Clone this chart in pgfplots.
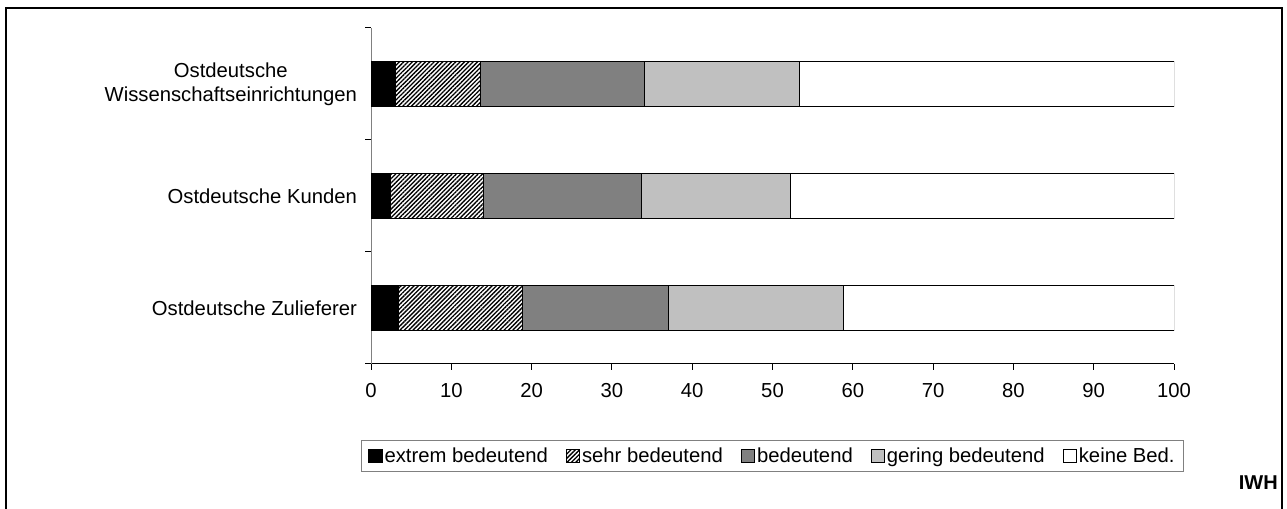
\documentclass[border=0pt]{standalone}
\usepackage{fontspec}
\setmainfont{Liberation Sans}
\usepackage{pgfplots}
\pgfplotsset{compat=1.18}
\usetikzlibrary{patterns.meta}
\definecolor{dgray}{RGB}{128,128,128}
\definecolor{lgray}{RGB}{192,192,192}
\begin{document}
\begin{tikzpicture}
\useasboundingbox (0,0) rectangle (965.25pt,381.75pt);
% outer frame, open at the bottom
\draw[line width=1.5pt] (4.5pt,-3pt) -- (4.5pt,375.75pt) -- (961.5pt,375.75pt) -- (961.5pt,-3pt);
\node[anchor=base east, font=\fontsize{15}{18}\selectfont\bfseries, inner sep=0pt] at (958.5pt,14.25pt) {IWH};
\begin{axis}[
	at={(278.25pt,108.75pt)}, anchor=south west,
	scale only axis, width=602.25pt, height=252pt,
	xbar stacked, bar width=33.75pt,
	xmin=0, xmax=100, ymin=-0.5, ymax=2.5,
	axis lines=left,
	axis line style={-, line width=0.75pt},
	x axis line style={black},
	y axis line style={dgray},
	tick align=outside,
	major tick length=4.5pt,
	tick style={black, line width=0.75pt},
	xtick={0,10,...,100},
	ytick={-0.5,0.5,1.5,2.5},
	yticklabels={},
	extra y ticks={0,1,2},
	extra y tick labels={Ostdeutsche Zulieferer, Ostdeutsche Kunden, {Ostdeutsche\\Wissenschaftseinrichtungen}},
	extra y tick style={major tick length=0pt, tick style={draw=none}},
	yticklabel style={align=center, xshift=-7pt},
	xticklabel style={yshift=-6.5pt},
	/pgf/number format/assume math mode=true,
	font=\fontsize{15.2}{18}\selectfont,
	ticklabel style={font=\fontsize{15.2}{18}\selectfont},
	legend style={at={(0.5,-0.226)}, anchor=north, legend columns=-1,
		draw=dgray, line width=0.75pt, font=\fontsize{15.2}{18}\selectfont,
		inner xsep=5pt, inner ysep=4pt,
		nodes={inner sep=1.5pt},
		/tikz/every even column/.append style={column sep=12pt}},
	legend image code/.code={\draw[#1, line width=0.6pt] (0pt,-5pt) rectangle (10pt,5pt);},
	every axis plot/.append style={draw=black, line width=0.75pt},
]
\addplot[fill=black] coordinates {(3.4,0) (2.4,1) (3.0,2)};
\addlegendentry{extrem bedeutend}
\addplot[pattern={Lines[angle=45,distance=2.3pt,line width=1pt]}] coordinates {(15.5,0) (11.6,1) (10.6,2)};
\addlegendentry{sehr bedeutend}
\addplot[fill=dgray] coordinates {(18.2,0) (19.7,1) (20.4,2)};
\addlegendentry{bedeutend}
\addplot[fill=lgray] coordinates {(21.7,0) (18.6,1) (19.3,2)};
\addlegendentry{gering bedeutend}
\addplot[fill=white] coordinates {(41.2,0) (47.7,1) (46.7,2)};
\addlegendentry{keine Bed.}
\end{axis}
\end{tikzpicture}
\end{document}
